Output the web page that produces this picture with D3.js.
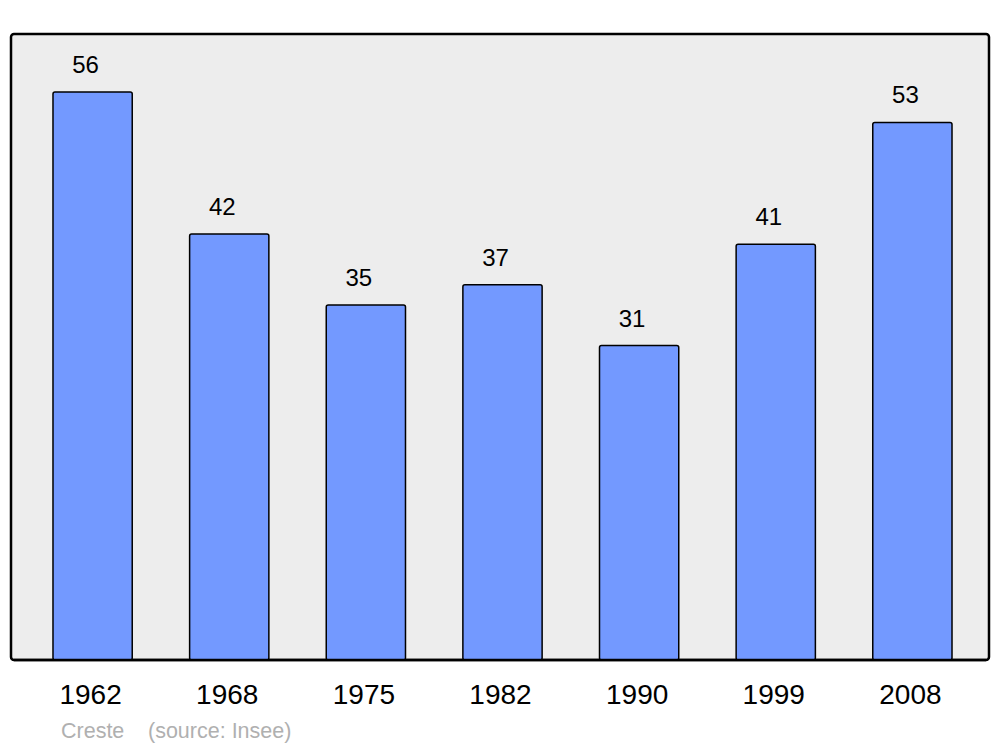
<!DOCTYPE html>
<html><head><meta charset="utf-8">
<script src="https://cdn.jsdelivr.net/npm/d3@7"></script>
<style>body{margin:0;background:#fff}svg{display:block}</style>
</head><body>
<svg id="c" width="1000" height="747"></svg>
<script>
const years = ["1962","1968","1975","1982","1990","1999","2008"];
const population = [56,42,35,37,31,41,53];
const footer = ["Creste", "(source: Insee)"];

const svg = d3.select("#c");
const font = "'Liberation Sans', Arial, sans-serif";
const x = d3.scaleBand().domain(years).range([24.3, 980.7]).paddingInner(0.42).paddingOuter(0.21);
const y = d3.scaleLinear().domain([0, 61.72]).range([660, 34]);

svg.append("rect").attr("x",11).attr("y",34).attr("width",978).attr("height",626)
  .attr("rx",3).attr("fill","#ededed").attr("stroke","#000").attr("stroke-width",2.5);

svg.append("g").selectAll("rect").data(years).join("rect")
  .attr("x", d => x(d)).attr("width", x.bandwidth())
  .attr("y", (d,i) => y(population[i])).attr("height", (d,i) => y(0) - y(population[i]))
  .attr("rx",2).attr("fill","#7399ff").attr("stroke","#000").attr("stroke-width",1.5);

// redraw panel bottom border on top
svg.append("line").attr("x1",14).attr("x2",986).attr("y1",660).attr("y2",660)
  .attr("stroke","#000").attr("stroke-width",2.5);

svg.append("g").selectAll("text").data(years).join("text")
  .attr("x", d => x(d) + x.bandwidth()/2 - 7)
  .attr("y", (d,i) => y(population[i]) - 19)
  .attr("text-anchor","middle").attr("font-family",font).attr("font-size",24).attr("fill","#000")
  .text((d,i) => population[i]);

const ax = svg.append("g").attr("transform","translate(-2,660)")
  .call(d3.axisBottom(x).tickSize(0).tickPadding(24));
ax.select(".domain").remove();
ax.selectAll("text").attr("font-family",font).attr("font-size",28).attr("fill","#000");

svg.append("text").attr("x",61).attr("y",738).attr("font-family",font).attr("font-size",21.5)
  .attr("fill","#b0b0b0").text(footer[0]);
svg.append("text").attr("x",148).attr("y",738).attr("font-family",font).attr("font-size",21.5)
  .attr("fill","#b0b0b0").text(footer[1]);
</script>
</body></html>
